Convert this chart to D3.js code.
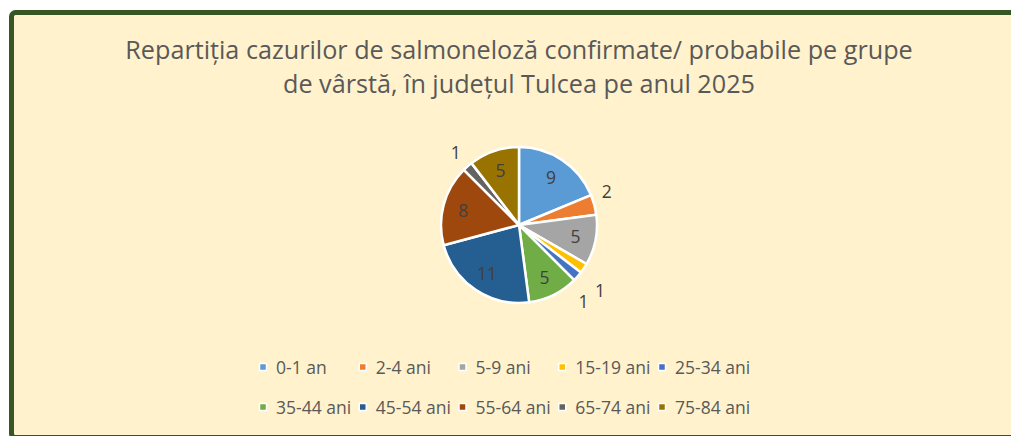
<!DOCTYPE html>
<html>
<head>
<meta charset="utf-8">
<script src="https://cdn.jsdelivr.net/npm/d3@7"></script>
<style>
  html, body { margin: 0; padding: 0; background: #ffffff; overflow: hidden; }
  svg { display: block; overflow: hidden; }
</style>
</head>
<body>
<svg id="chart" width="1011" height="436"></svg>
<script>
// ---- data ----
const categories = ["0-1 an", "2-4 ani", "5-9 ani", "15-19 ani", "25-34 ani",
                    "35-44 ani", "45-54 ani", "55-64 ani", "65-74 ani", "75-84 ani"];
const values = [9, 2, 5, 1, 1, 5, 11, 8, 1, 5];
const colors = ["#5B9BD5", "#ED7D31", "#A5A5A5", "#FFC000", "#4472C4",
                "#70AD47", "#255E91", "#9E480E", "#636363", "#997300"];
const titleLines = ["Repartiția cazurilor de salmoneloză confirmate/ probabile pe grupe",
                    "de vârstă, în județul Tulcea pe anul 2025"];

// ---- layout ----
const W = 1011, H = 436;
const svg = d3.select("#chart");
const FONT = "'Open Sans', sans-serif";

// background box with green border
svg.append("rect")
  .attr("x", 11.5).attr("y", 12.5)
  .attr("width", 1100).attr("height", 425)
  .attr("rx", 4).attr("ry", 4)
  .attr("fill", "#FFF2CC")
  .attr("stroke", "#375623")
  .attr("stroke-width", 5);

// title
const title = svg.append("text")
  .attr("text-anchor", "middle")
  .attr("font-family", FONT)
  .attr("font-size", 25.2)
  .attr("fill", "#595959");
titleLines.forEach((t, i) => {
  title.append("tspan").attr("x", 519).attr("y", 59 + i * 34).text(t);
});

// pie
const cx = 519, cy = 225, R = 78;
const data = categories.map((c, i) => ({ cat: c, value: values[i], color: colors[i] }));
const pie = d3.pie().value(d => d.value).sort(null).startAngle(0).endAngle(2 * Math.PI);
const arcs = pie(data);
const arc = d3.arc().innerRadius(0).outerRadius(R);
const g = svg.append("g").attr("transform", `translate(${cx},${cy})`);

g.selectAll("path.slice").data(arcs).enter().append("path")
  .attr("class", "slice")
  .attr("d", arc)
  .attr("fill", d => d.data.color)
  .attr("stroke", "#ffffff")
  .attr("stroke-width", 2.5)
  .attr("stroke-linejoin", "round");

// data labels: inside for larger slices, outside (best fit) for small ones
const inner = d3.arc().innerRadius(R * 0.74).outerRadius(R * 0.74);
const nudge = { "2-4 ani": -6, "15-19 ani": 5, "25-34 ani": 8.5, "65-74 ani": 0.5 };
const outR = { "2-4 ani": 94, "15-19 ani": 104, "25-34 ani": 100, "65-74 ani": 97 };
g.selectAll("text.lbl").data(arcs).enter().append("text")
  .attr("class", "lbl")
  .attr("text-anchor", "middle")
  .attr("dominant-baseline", "central")
  .attr("font-family", FONT)
  .attr("font-size", 17.5)
  .attr("fill", "#404040")
  .attr("transform", d => {
    const mid = (d.startAngle + d.endAngle) / 2;
    if (d.data.value <= 2) {
      const a = mid + (nudge[d.data.cat] || 0) * Math.PI / 180;
      const r = outR[d.data.cat] || (R + 20);
      return `translate(${r * Math.sin(a)},${-r * Math.cos(a)})`;
    }
    const [x, y] = inner.centroid(d);
    return `translate(${x},${y})`;
  })
  .text(d => d.data.value);

// legend
const legX = d3.scalePoint().domain(d3.range(5)).range([259, 658]);
const legY = [367, 407];
const leg = svg.append("g");
const items = leg.selectAll("g.item").data(data).enter().append("g")
  .attr("class", "item")
  .attr("transform", (d, i) => `translate(${legX(i % 5)},${legY[Math.floor(i / 5)]})`);
items.append("rect")
  .attr("x", 0.5).attr("y", -3.5)
  .attr("width", 7).attr("height", 7)
  .attr("fill", d => d.color)
  .attr("stroke", "#ffffff")
  .attr("stroke-width", 1.5);
items.append("text")
  .attr("x", 17)
  .attr("y", 0)
  .attr("dominant-baseline", "central")
  .attr("font-family", FONT)
  .attr("font-size", 17.5)
  .attr("fill", "#595959")
  .text(d => d.cat);
</script>
</body>
</html>
